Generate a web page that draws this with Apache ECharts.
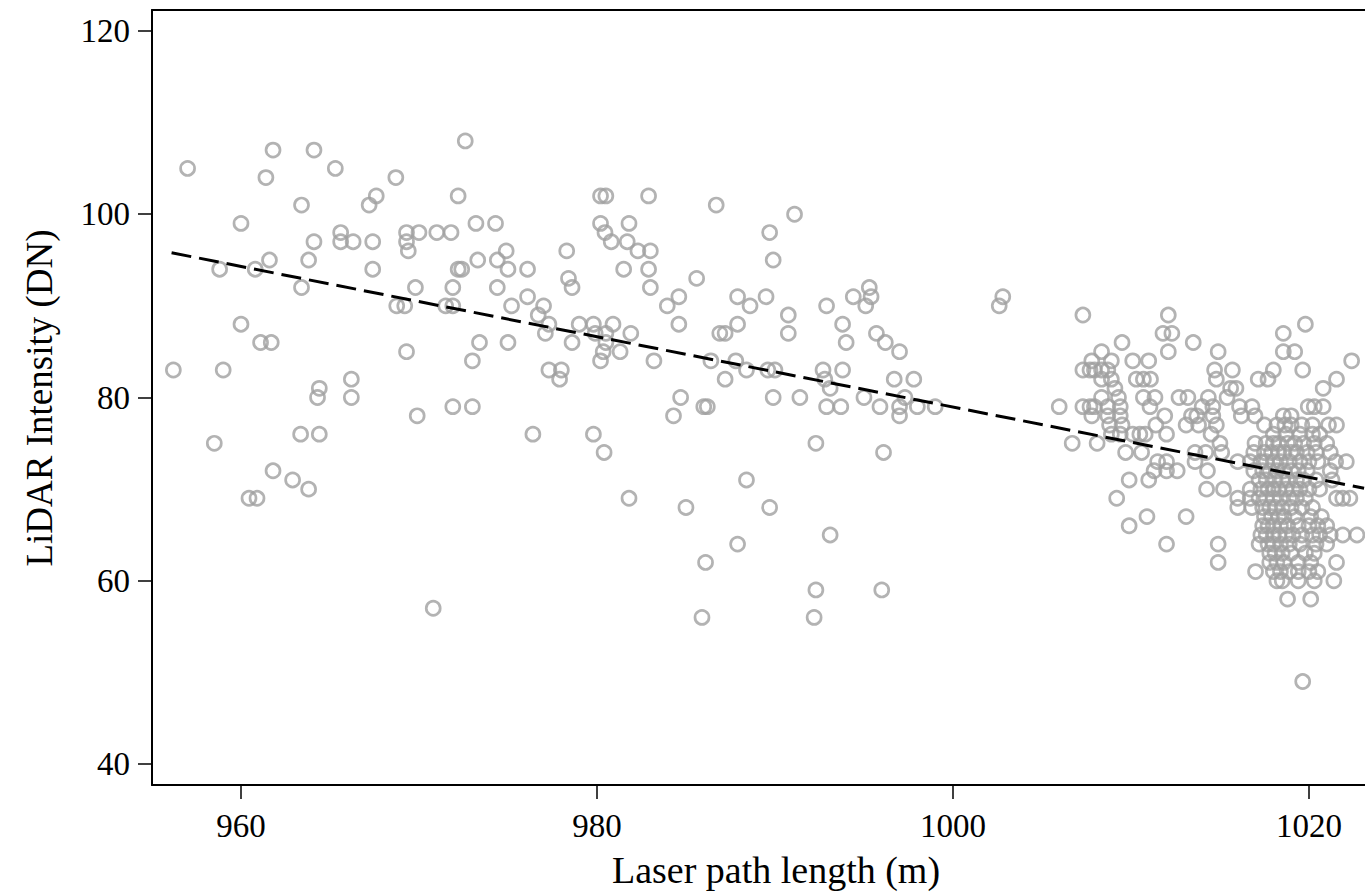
<!DOCTYPE html>
<html>
<head>
<meta charset="utf-8">
<script src="https://cdn.jsdelivr.net/npm/echarts@6/dist/echarts.min.js"></script>
<style>
html,body{margin:0;padding:0;background:#fff;}
#chart{width:1365px;height:892px;}
</style>
</head>
<body>
<div id="chart"></div>
<script>
// Intensity levels (DN) and the laser path lengths (m) of the points at each level
const intensityLevels = [108,107,105,104,102,101,100,99,98,97,96,95,94,93,92,91,90,89,88,87,86,85,84,83,82,81,80,79,78,77,76,75,74,73,72,71,70,69,68,67,66,65,64,63,62,61,60,59,58,57,56,49];
const pathLengthsByLevel = [
  [972.6],
  [961.8, 964.1],
  [957.0, 965.3],
  [961.4, 968.7],
  [967.6, 972.2, 980.2, 980.5, 982.9],
  [963.4, 967.2, 986.7],
  [991.1],
  [960.0, 973.2, 974.3, 980.2, 981.8],
  [965.6, 969.3, 970.0, 971.0, 971.8, 980.45, 989.7],
  [964.1, 965.6, 966.3, 967.4, 969.3, 980.8, 981.7],
  [969.4, 974.9, 978.3, 982.3, 983.0],
  [961.6, 963.8, 973.3, 974.4, 989.9],
  [958.8, 960.8, 967.4, 972.2, 972.4, 975.0, 976.1, 981.5, 982.9],
  [978.4, 985.6],
  [963.4, 969.8, 971.9, 974.4, 978.6, 983.0, 995.3],
  [976.1, 984.6, 987.9, 989.5, 994.4, 995.4, 1002.8],
  [968.75, 969.2, 971.5, 971.9, 975.2, 977.0, 983.95, 988.6, 992.9, 995.1, 1002.6],
  [976.7, 990.75, 1007.3, 1012.1],
  [960.0, 977.3, 979.0, 979.8, 980.9, 984.6, 987.9, 993.8, 1019.8],
  [977.1, 979.9, 980.5, 981.9, 986.9, 987.2, 990.75, 995.7, 1011.8, 1012.3, 1018.56],
  [961.1, 961.7, 973.4, 975.0, 978.6, 980.5, 994.0, 996.2, 1009.5, 1013.5],
  [969.3, 980.35, 981.3, 997.0, 1008.35, 1012.1, 1014.9, 1018.56, 1019.2],
  [973.0, 980.2, 983.2, 986.4, 987.8, 1007.8, 1008.9, 1010.1, 1011.0, 1022.4],
  [956.2, 959.0, 977.3, 978.0, 988.4, 989.6, 990.0, 992.7, 993.8, 1007.3, 1007.7, 1007.95, 1008.35, 1008.7, 1014.7, 1015.7, 1018.0, 1019.65],
  [966.2, 977.9, 987.2, 992.8, 996.7, 997.8, 1008.35, 1008.9, 1010.3, 1010.7, 1011.1, 1014.8, 1017.15, 1017.7, 1021.55],
  [964.4, 993.1, 1009.1, 1015.6, 1015.9, 1020.8],
  [964.3, 966.2, 984.7, 989.9, 991.4, 995.0, 997.3, 1008.35, 1009.3, 1010.7, 1011.35, 1012.7, 1013.2, 1014.35, 1015.4],
  [971.9, 973.0, 986.0, 986.2, 992.9, 993.7, 995.9, 997.0, 998.0, 999.0, 1005.97, 1007.3, 1007.7, 1007.95, 1008.7, 1009.4, 1011.07, 1014.0, 1014.6, 1016.1, 1016.8, 1019.96, 1020.3, 1020.8],
  [969.9, 984.3, 997.0, 1007.8, 1008.7, 1009.4, 1011.9, 1013.4, 1013.7, 1014.6, 1016.2, 1016.97, 1018.56, 1019.0],
  [1008.8, 1009.5, 1011.4, 1013.1, 1013.8, 1014.8, 1017.5, 1018.2, 1018.65, 1019.0, 1019.6, 1020.2, 1021.1, 1021.55],
  [963.35, 964.4, 976.4, 979.8, 1008.9, 1009.4, 1010.1, 1010.5, 1010.8, 1012.0, 1014.5, 1018.0, 1018.7, 1019.5, 1020.2, 1020.6],
  [958.5, 992.3, 1006.7, 1008.1, 1015.0, 1016.97, 1017.6, 1018.0, 1018.3, 1018.8, 1019.2, 1019.7, 1020.3, 1021.0],
  [980.4, 996.1, 1009.7, 1010.6, 1013.6, 1014.2, 1015.1, 1016.9, 1017.5, 1017.9, 1018.3, 1018.6, 1019.0, 1019.3, 1019.9, 1020.4, 1021.2],
  [1011.5, 1012.0, 1013.6, 1016.0, 1016.7, 1017.3, 1017.6, 1018.0, 1018.4, 1018.9, 1019.5, 1020.0, 1020.5, 1021.5, 1022.1],
  [961.8, 1011.3, 1012.0, 1012.6, 1014.3, 1016.9, 1017.4, 1017.8, 1018.2, 1018.6, 1019.0, 1019.4, 1019.9, 1021.2],
  [962.9, 988.4, 1009.9, 1011.0, 1017.2, 1017.6, 1018.1, 1018.5, 1018.8, 1019.3, 1019.7, 1020.4, 1021.3],
  [963.8, 1014.25, 1015.2, 1016.7, 1017.3, 1017.7, 1018.0, 1018.3, 1018.7, 1019.1, 1019.5, 1020.0, 1020.6],
  [960.45, 960.9, 981.8, 1009.2, 1016.0, 1016.7, 1017.2, 1017.6, 1018.0, 1018.4, 1018.9, 1019.3, 1019.8, 1021.55, 1021.9, 1022.3],
  [985.0, 989.7, 1016.0, 1016.8, 1017.4, 1017.8, 1018.1, 1018.5, 1019.0, 1019.6, 1020.2],
  [1010.9, 1013.1, 1017.5, 1017.9, 1018.3, 1018.6, 1019.2, 1020.1, 1020.7],
  [1009.9, 1017.4, 1017.7, 1018.0, 1018.4, 1018.8, 1019.4, 1020.0, 1020.5, 1021.0],
  [993.1, 1017.3, 1017.6, 1018.0, 1018.3, 1018.7, 1019.1, 1019.6, 1020.2, 1020.6, 1021.2, 1021.9, 1022.7],
  [987.9, 1012.0, 1014.9, 1017.2, 1017.7, 1018.0, 1018.4, 1018.9, 1019.5, 1020.4, 1021.0],
  [1017.8, 1018.1, 1018.5, 1019.0, 1019.8, 1020.3],
  [986.1, 1014.9, 1017.8, 1018.2, 1018.6, 1019.4, 1020.1, 1021.55],
  [1017.0, 1018.0, 1018.4, 1018.9, 1019.4, 1020.0, 1020.5],
  [1018.2, 1018.5, 1019.4, 1020.3, 1021.4],
  [992.3, 996.0],
  [1018.8, 1020.1],
  [970.8],
  [985.9, 992.2],
  [1019.65]
];
// Fitted (dashed) line end points
const fitPathLength = [956.1, 1023.1];
const fitIntensity = [95.8, 70.1];
// Axis ticks
const xTickValues = [960, 980, 1000, 1020];
const yTickValues = [40, 60, 80, 100, 120];

const points = [];
intensityLevels.forEach(function (lvl, i) {
  pathLengthsByLevel[i].forEach(function (x) { points.push([x, lvl]); });
});
const fitLine = fitPathLength.map(function (x, i) { return [x, fitIntensity[i]]; });

const FONT = '"Liberation Serif", "Times New Roman", serif';
const plain = function (v) { return String(v); };
const chart = echarts.init(document.getElementById('chart'), null, {renderer: 'svg'});
chart.setOption({
  animation: false,
  backgroundColor: '#ffffff',
  grid: {left: 152, right: 0, top: 10, bottom: 107, containLabel: false},
  xAxis: [{
    type: 'value', min: 955.0, max: 1023.15, position: 'bottom',
    splitLine: {show: false},
    axisLine: {show: true, lineStyle: {color: '#000', width: 2}},
    axisTick: {show: true, length: 14, lineStyle: {color: '#000', width: 1.5}, customValues: xTickValues},
    axisLabel: {show: true, color: '#000', fontFamily: FONT, fontSize: 33, margin: 24, formatter: plain, customValues: xTickValues}
  }, {
    type: 'value', min: 955.0, max: 1023.15, position: 'top',
    splitLine: {show: false},
    axisLine: {show: true, lineStyle: {color: '#000', width: 2}},
    axisTick: {show: false}, axisLabel: {show: false}
  }],
  yAxis: {
    type: 'value', min: 37.71, max: 122.29,
    splitLine: {show: false},
    axisLine: {show: true, onZero: false, lineStyle: {color: '#000', width: 2}},
    axisTick: {show: true, length: 14, lineStyle: {color: '#000', width: 1.5}, customValues: yTickValues},
    axisLabel: {show: true, color: '#000', fontFamily: FONT, fontSize: 33, margin: 22, formatter: plain, customValues: yTickValues}
  },
  graphic: [
    {type: 'text', x: 776, y: 870, style: {text: 'Laser path length (m)', font: '38px ' + FONT, fill: '#000', textAlign: 'center', textVerticalAlign: 'middle'}},
    {type: 'text', x: 39, y: 398, rotation: Math.PI / 2, style: {text: 'LiDAR Intensity (DN)', font: '37px ' + FONT, fill: '#000', textAlign: 'center', textVerticalAlign: 'middle'}}
  ],
  series: [{
    type: 'scatter',
    data: points,
    symbol: 'circle',
    symbolSize: 14,
    itemStyle: {color: 'rgba(0,0,0,0)', borderColor: '#a0a0a0', borderWidth: 2.7},
    z: 2
  }, {
    type: 'line',
    data: fitLine,
    showSymbol: false,
    symbol: 'none',
    lineStyle: {color: '#000', width: 3, type: [20, 8]},
    z: 3
  }]
});
</script>
</body>
</html>
